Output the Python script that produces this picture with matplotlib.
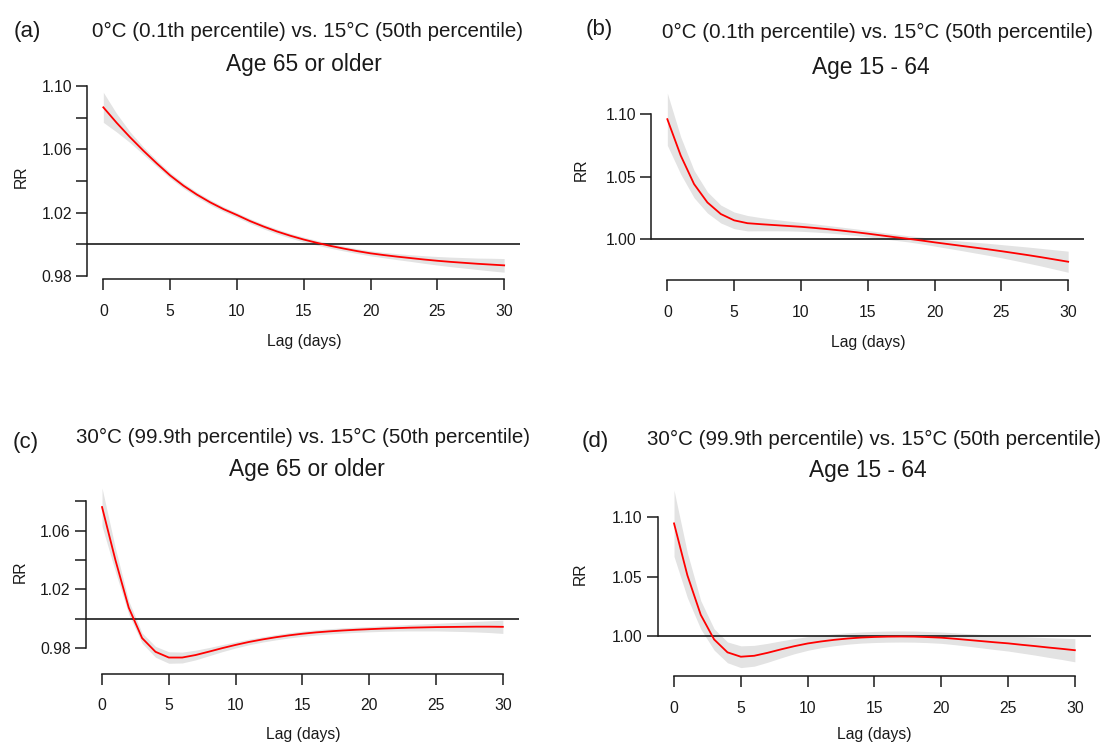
import matplotlib.pyplot as plt
import numpy as np

plt.rcParams['font.family'] = ['Liberation Sans', 'DejaVu Sans']

lag = np.arange(31)

# relative risk by lag
rr_a = [1.0865, 1.0767, 1.0676, 1.0591, 1.0511, 1.0435, 1.0370, 1.0314, 1.0265, 1.0222,
        1.0185, 1.0146, 1.0112, 1.0081, 1.0054, 1.0030, 1.0009, 0.9990, 0.9973, 0.9957,
        0.9943, 0.9932, 0.9922, 0.9913, 0.9904, 0.9896, 0.9889, 0.9883, 0.9877, 0.9872, 0.9867]
ci_a = [0.0095, 0.0058, 0.0034, 0.0024, 0.0020, 0.0018, 0.0017, 0.0016, 0.0016, 0.0015,
        0.0015, 0.0015, 0.0015, 0.0015, 0.0015, 0.0015, 0.0015, 0.0015, 0.0015, 0.0015,
        0.0016, 0.0017, 0.0019, 0.0021, 0.0024, 0.0027, 0.0030, 0.0033, 0.0036, 0.0040, 0.0043]

rr_b = [1.0962, 1.0670, 1.0440, 1.0292, 1.0199, 1.0148, 1.0125, 1.0117, 1.0110, 1.0103,
        1.0096, 1.0087, 1.0077, 1.0066, 1.0054, 1.0041, 1.0027, 1.0013, 1.0000, 0.9986,
        0.9971, 0.9957, 0.9943, 0.9929, 0.9915, 0.9900, 0.9884, 0.9868, 0.9851, 0.9833, 0.9815]
ci_b = [0.0210, 0.0150, 0.0110, 0.0085, 0.0072, 0.0067, 0.0062, 0.0053, 0.0046, 0.0040,
        0.0036, 0.0033, 0.0030, 0.0028, 0.0027, 0.0026, 0.0025, 0.0025, 0.0025, 0.0027,
        0.0030, 0.0034, 0.0038, 0.0043, 0.0048, 0.0053, 0.0059, 0.0065, 0.0071, 0.0078, 0.0085]

rr_c = [1.0760, 1.0400, 1.0075, 0.9868, 0.9775, 0.9736, 0.9736, 0.9753, 0.9776, 0.9800,
        0.9822, 0.9842, 0.9859, 0.9874, 0.9887, 0.9898, 0.9907, 0.9914, 0.9920, 0.9925,
        0.9929, 0.9933, 0.9936, 0.9939, 0.9941, 0.9943, 0.9944, 0.9945, 0.9946, 0.9946, 0.9945]
ci_c = [0.0130, 0.0080, 0.0045, 0.0035, 0.0037, 0.0039, 0.0037, 0.0033, 0.0028, 0.0024,
        0.0021, 0.0019, 0.0018, 0.0018, 0.0018, 0.0018, 0.0018, 0.0018, 0.0018, 0.0018,
        0.0018, 0.0019, 0.0020, 0.0022, 0.0024, 0.0026, 0.0029, 0.0032, 0.0036, 0.0040, 0.0045]

rr_d = [1.0949, 1.0510, 1.0176, 0.9968, 0.9859, 0.9822, 0.9830, 0.9855, 0.9884, 0.9911,
        0.9934, 0.9951, 0.9965, 0.9976, 0.9984, 0.9989, 0.9992, 0.9993, 0.9992, 0.9988,
        0.9983, 0.9974, 0.9964, 0.9954, 0.9944, 0.9935, 0.9923, 0.9912, 0.9900, 0.9889, 0.9877]
ci_d = [0.0280, 0.0190, 0.0120, 0.0090, 0.0088, 0.0092, 0.0088, 0.0080, 0.0072, 0.0064,
        0.0058, 0.0053, 0.0050, 0.0048, 0.0047, 0.0047, 0.0047, 0.0047, 0.0047, 0.0047,
        0.0048, 0.0050, 0.0053, 0.0057, 0.0061, 0.0065, 0.0070, 0.0076, 0.0083, 0.0090, 0.0098]

cold = '0\u00b0C (0.1th percentile) vs. 15\u00b0C (50th percentile)'
hot = '30\u00b0C (99.9th percentile) vs. 15\u00b0C (50th percentile)'
old = 'Age 65 or older'
young = 'Age 15 - 64'

yt_a = [0.98, 1.00, 1.02, 1.04, 1.06, 1.08, 1.10]
yl_a = ['0.98', '', '1.02', '', '1.06', '', '1.10']
yt_b = [1.00, 1.05, 1.10]
yl_b = ['1.00', '1.05', '1.10']
yt_c = [0.98, 1.00, 1.02, 1.04, 1.06, 1.08]
yl_c = ['0.98', '', '1.02', '', '1.06', '']

W, H = 1104, 744
fig = plt.figure(figsize=(W / 100, H / 100), dpi=100)

def fx(x):
    return x / W

def fy(y):
    return 1 - y / H

# (letter, title, subtitle, rr, ci, yticks, ylabels, ylim, axes box px, text px)
panels = [
    ('(a)', cold, old, rr_a, ci_a, yt_a, yl_a, (0.9779, 1.1006),
     (87.3, 520.2, 85.0, 279.3), dict(let=(13.4, 36.5), tit=(307, 36.7), sub=(304, 71.5),
                                      rr=(21, 177), lag=(304, 346))),
    ('(b)', cold, young, rr_b, ci_b, yt_b, yl_b, (0.9668, 1.1229),
     (651.3, 1084.2, 86.0, 280.0), dict(let=(585.5, 34.5), tit=(877, 38.3), sub=(871, 74),
                                        rr=(581, 170), lag=(868, 346.7))),
    ('(c)', hot, old, rr_c, ci_c, yt_c, yl_c, (0.9626, 1.0946),
     (86.0, 518.9, 479.7, 673.7), dict(let=(12.3, 448), tit=(303, 442.7), sub=(307, 476),
                                       rr=(20, 572), lag=(303, 738.7))),
    ('(d)', hot, young, rr_d, ci_d, yt_b, yl_b, (0.9659, 1.1299),
     (658.0, 1090.9, 482.0, 676.0), dict(let=(582, 447), tit=(874, 445.3), sub=(868, 477),
                                         rr=(580, 573.7), lag=(874, 738.7))),
]

ink = '#1a1a1a'

for letter, title, sub, rr, ci, yt, yl, ylim, box, tp in panels:
    x0, x1, ytop, ybot = box
    ax = fig.add_axes([fx(x0), fy(ybot), (x1 - x0) / W, (ybot - ytop) / H])
    rr = np.array(rr)
    ci = np.array(ci)
    ax.fill_between(lag, rr - ci, rr + ci, color='#e3e3e3', lw=0, zorder=1)
    ax.axhline(1.0, color=ink, lw=1.2, zorder=2)
    ax.plot(lag, rr, color='#ff0000', lw=1.3, zorder=3)
    ax.set_xlim(-1.2, 31.2)
    ax.set_ylim(*ylim)
    for s in ['top', 'right']:
        ax.spines[s].set_visible(False)
    for s in ['left', 'bottom']:
        ax.spines[s].set_color(ink)
        ax.spines[s].set_linewidth(1.1)
    ax.spines['left'].set_bounds(yt[0], yt[-1])
    ax.spines['bottom'].set_bounds(0, 30)
    ax.set_xticks(range(0, 31, 5))
    ax.set_yticks(yt)
    ax.set_yticklabels(yl)
    ax.tick_params(axis='both', length=7.7, width=1.1, color=ink, labelsize=11.3,
                   labelcolor=ink)
    ax.tick_params(axis='x', pad=10)
    ax.tick_params(axis='y', pad=3.3)
    ax.patch.set_alpha(0)

    fig.text(fx(tp['let'][0]), fy(tp['let'][1]), letter, fontsize=16, ha='left',
             va='baseline', color=ink)
    fig.text(fx(tp['tit'][0]), fy(tp['tit'][1]), title, fontsize=14.8, ha='center',
             va='baseline', color=ink)
    fig.text(fx(tp['sub'][0]), fy(tp['sub'][1]), sub, fontsize=16.4, ha='center',
             va='baseline', color=ink)
    fig.text(fx(tp['rr'][0]), fy(tp['rr'][1]), 'RR', fontsize=11.3, rotation=90,
             ha='center', va='center', color=ink)
    fig.text(fx(tp['lag'][0]), fy(tp['lag'][1]), 'Lag (days)', fontsize=11.3,
             ha='center', va='baseline', color=ink)

plt.savefig('out.png', dpi=100)
